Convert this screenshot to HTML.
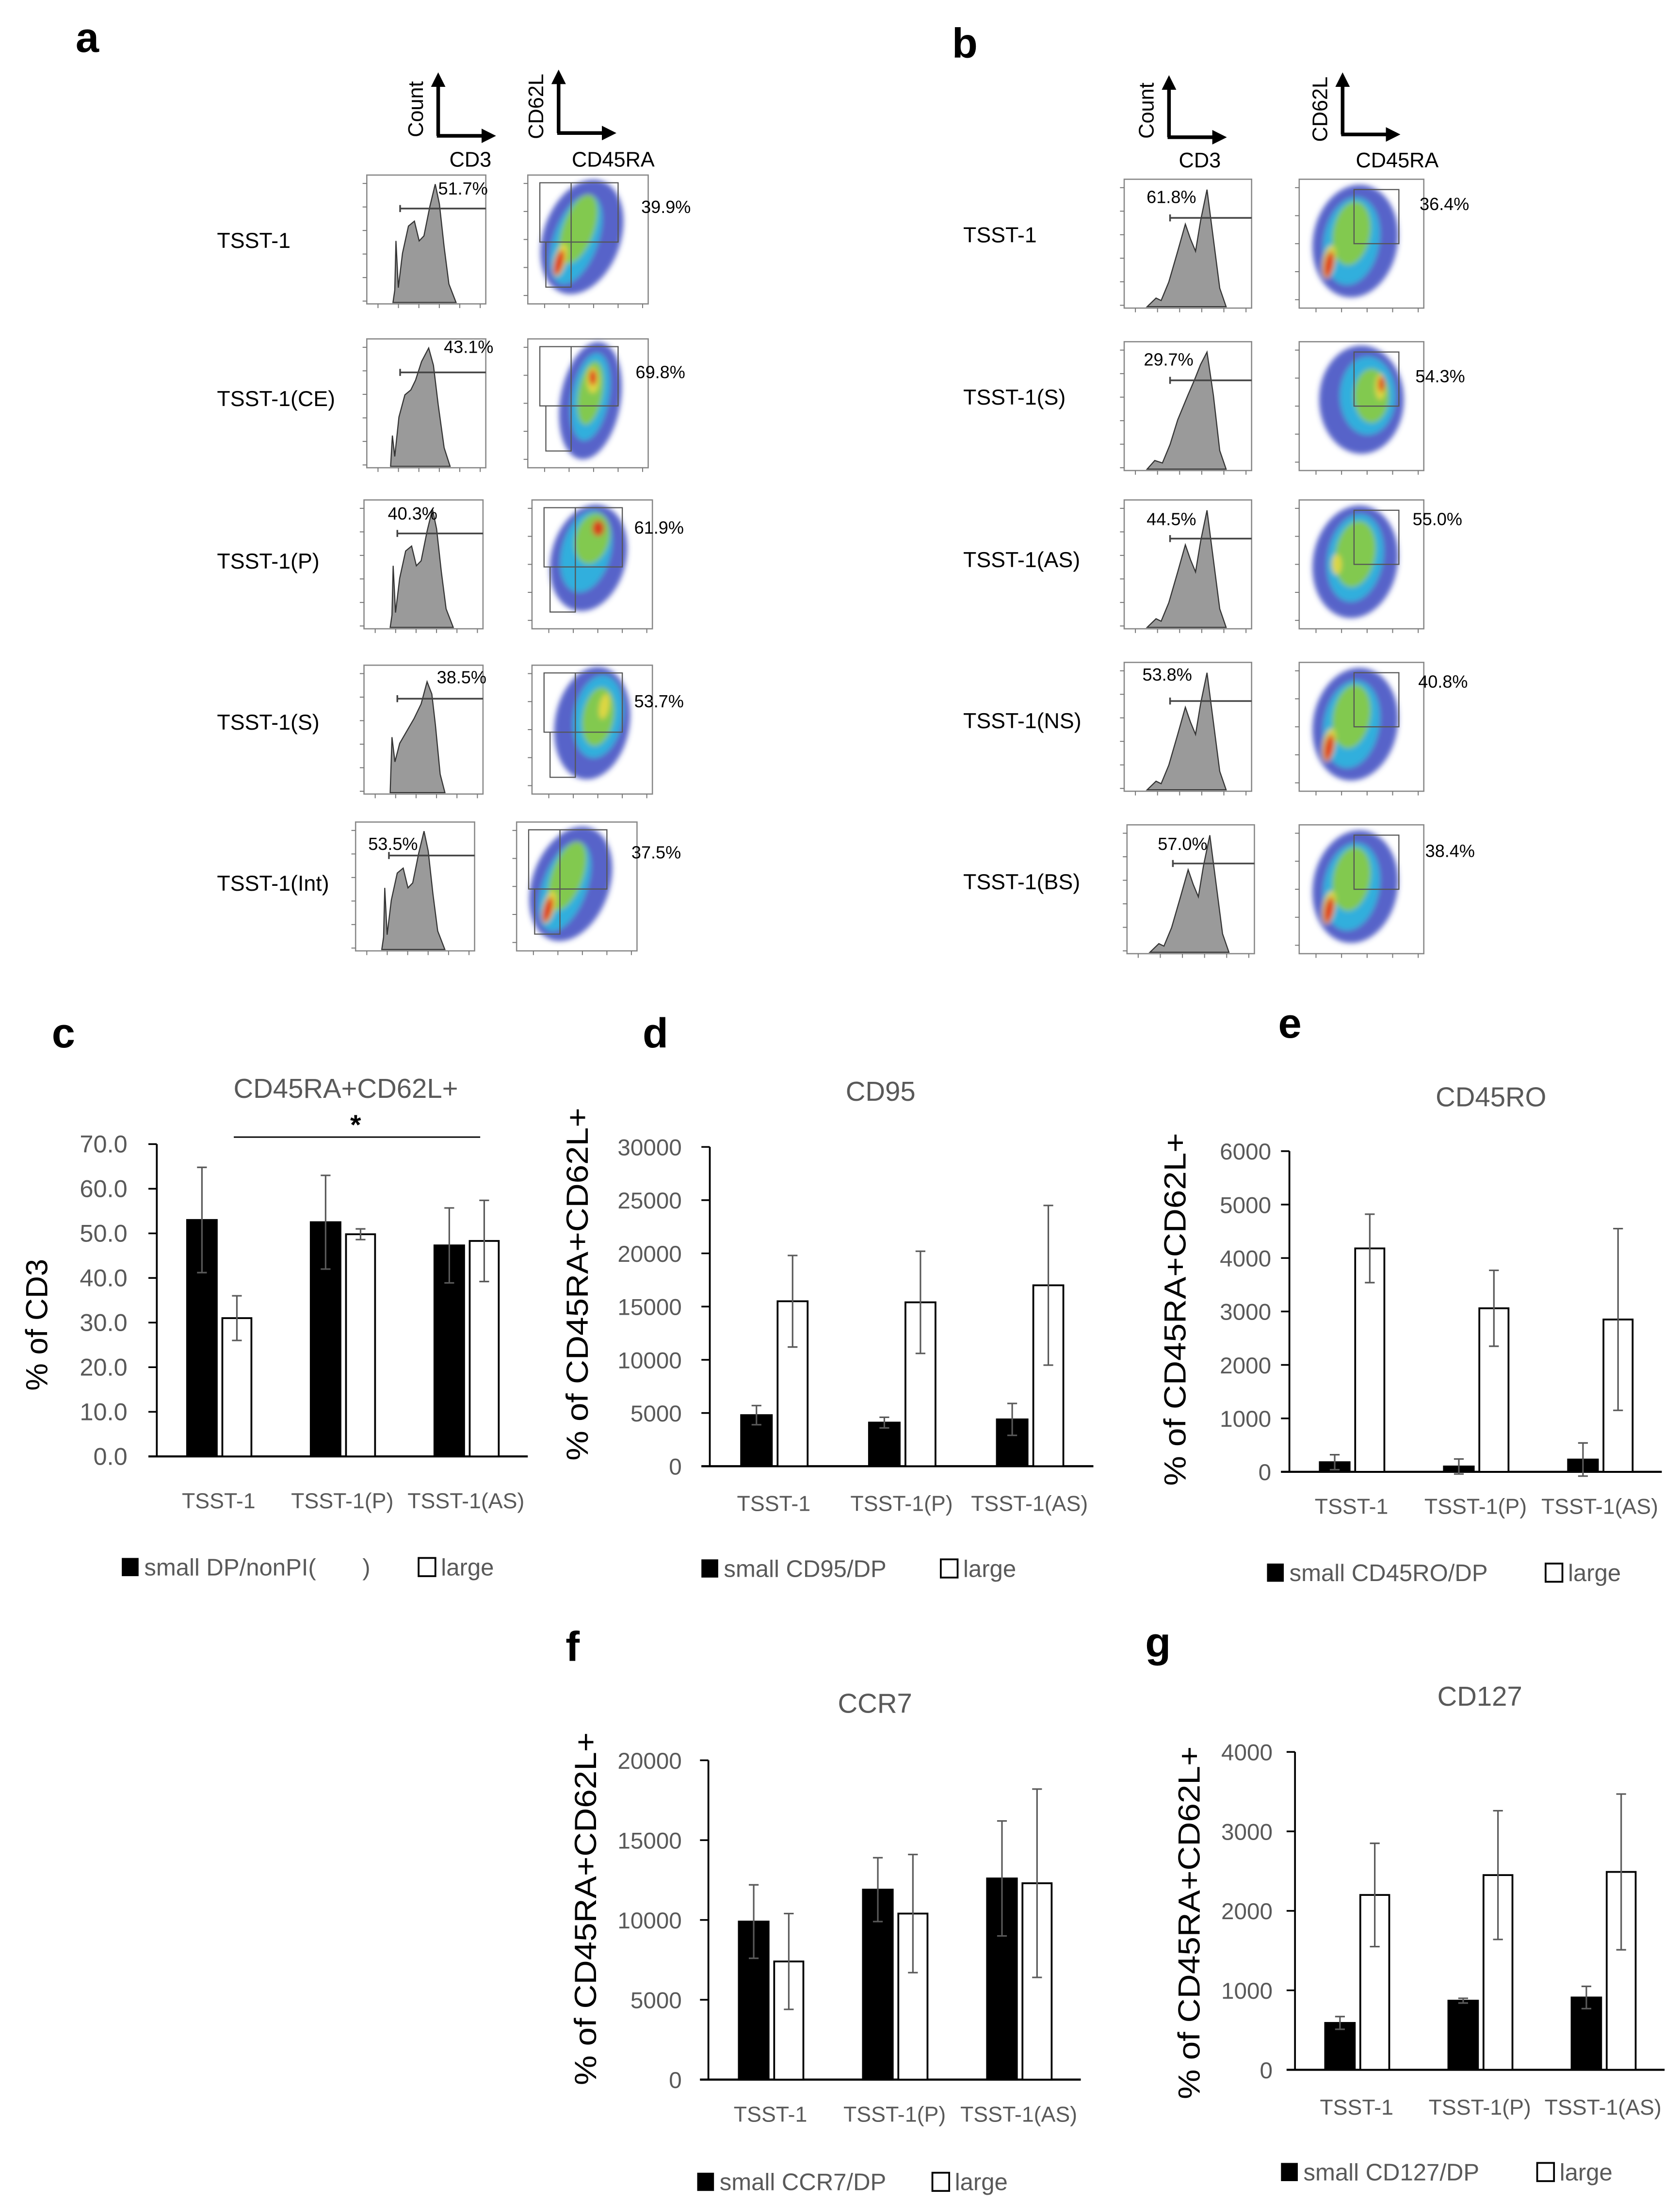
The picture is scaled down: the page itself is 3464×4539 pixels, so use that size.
<!DOCTYPE html>
<html><head><meta charset="utf-8">
<style>
html,body{margin:0;padding:0;background:#fff;}
svg{display:block;font-family:"Liberation Sans",Arial,sans-serif;}
</style></head>
<body>
<svg id="fig" xmlns="http://www.w3.org/2000/svg" width="3464" height="4539" viewBox="0 0 1200 1572.4">
<defs>
<filter id="blur" x="-30%" y="-30%" width="160%" height="160%"><feGaussianBlur stdDeviation="1.8"/></filter>
<marker id="arrowHead" viewBox="0 0 10 10" refX="2" refY="5" markerWidth="4" markerHeight="4" orient="auto"><path d="M0,0 L10,5 L0,10 z" fill="#000"/></marker>
</defs>
<rect x="0" y="0" width="1200" height="1572.4" fill="#fff"/>

<g font-weight="bold" font-size="30" fill="#000">
<text x="54" y="37">a</text>
<text x="680" y="41">b</text>
<text x="37" y="748">c</text>
<text x="459" y="748">d</text>
<text x="913" y="741">e</text>
<text x="404" y="1186">f</text>
<text x="818" y="1183">g</text>
</g>

<g id="headerA">
<line x1="313" y1="97" x2="313" y2="60" stroke="#000" stroke-width="2.6" marker-end="url(#arrowHead)"/>
<line x1="312" y1="97" x2="346" y2="97" stroke="#000" stroke-width="2.6" marker-end="url(#arrowHead)"/>
<text x="0" y="0" font-size="15" transform="translate(302,78) rotate(-90)" text-anchor="middle">Count</text>
<text x="336" y="119" font-size="15" text-anchor="middle">CD3</text>
<line x1="399" y1="95" x2="399" y2="58" stroke="#000" stroke-width="2.6" marker-end="url(#arrowHead)"/>
<line x1="398" y1="95" x2="432" y2="95" stroke="#000" stroke-width="2.6" marker-end="url(#arrowHead)"/>
<text x="0" y="0" font-size="15" transform="translate(388,76) rotate(-90)" text-anchor="middle">CD62L</text>
<text x="438" y="119" font-size="15" text-anchor="middle">CD45RA</text>
</g>
<g id="headerB">
<line x1="835" y1="98" x2="835" y2="62" stroke="#000" stroke-width="2.6" marker-end="url(#arrowHead)"/>
<line x1="834" y1="98" x2="868" y2="98" stroke="#000" stroke-width="2.6" marker-end="url(#arrowHead)"/>
<text x="0" y="0" font-size="15" transform="translate(824,79) rotate(-90)" text-anchor="middle">Count</text>
<text x="857" y="119.5" font-size="15" text-anchor="middle">CD3</text>
<line x1="959" y1="96" x2="959" y2="60" stroke="#000" stroke-width="2.6" marker-end="url(#arrowHead)"/>
<line x1="958" y1="96" x2="992" y2="96" stroke="#000" stroke-width="2.6" marker-end="url(#arrowHead)"/>
<text x="0" y="0" font-size="15" transform="translate(948,78) rotate(-90)" text-anchor="middle">CD62L</text>
<text x="998" y="119.5" font-size="15" text-anchor="middle">CD45RA</text>
</g>

<g id="flow"></g>
<g id="charts"></g>
</svg>

<script>
const groupCategories = ["TSST-1", "TSST-1(P)", "TSST-1(AS)"];

const cTicks = ["0.0","10.0","20.0","30.0","40.0","50.0","60.0","70.0"];
const cSmall = [53.0, 52.5, 47.3];
const cSmallErr = [11.8, 10.5, 8.4];
const cLarge = [31.0, 49.8, 48.3];
const cLargeErr = [5.0, 1.2, 9.1];

const dTicks = ["0","5000","10000","15000","20000","25000","30000"];
const dSmall = [4800, 4100, 4400];
const dSmallErr = [900, 500, 1500];
const dLarge = [15500, 15400, 17000];
const dLargeErr = [4300, 4800, 7500];

const eTicks = ["0","1000","2000","3000","4000","5000","6000"];
const eSmall = [180, 100, 230];
const eSmallErr = [140, 140, 310];
const eLarge = [4180, 3060, 2850];
const eLargeErr = [640, 710, 1700];

const fTicks = ["0","5000","10000","15000","20000"];
const fSmall = [9900, 11900, 12600];
const fSmallErr = [2300, 2000, 3600];
const fLarge = [7400, 10400, 12300];
const fLargeErr = [3000, 3700, 5900];

const gTicks = ["0","1000","2000","3000","4000"];
const gSmall = [590, 870, 910];
const gSmallErr = [80, 30, 140];
const gLarge = [2200, 2450, 2490];
const gLargeErr = [650, 810, 980];

const NS = "http://www.w3.org/2000/svg";
function mk(tag, attrs, parent) {
  const e = document.createElementNS(NS, tag);
  for (const k in attrs) e.setAttribute(k, attrs[k]);
  if (parent) parent.appendChild(e);
  return e;
}
const GREY = "#595959";

function drawChart(id, L, ticks, small, smallErr, large, largeErr, title, ylabel, legendSmall) {
  const root = document.getElementById("charts");
  const g = mk("g", {}, root);
  
  
  const tickVals = ticks.map(parseFloat);
  const maxV = tickVals[tickVals.length - 1];
  const yScale = v => L.y0 - (v / maxV) * (L.y0 - L.yTop);
  const pitch = (L.x1 - L.x0) / groupCategories.length;
  const xScale = (i, f) => L.x0 + i * pitch + f * pitch;

  const t = mk("text", {x: L.titleX, y: L.titleY, "font-size": 19.5, fill: GREY, "text-anchor": "middle"}, g);
  t.textContent = title;
  
  

  tickVals.forEach((v, i) => {
    const y = yScale(v);
    const tl = mk("text", {x: L.tickX, y: y + 6, "font-size": L.tickFont, fill: GREY, "text-anchor": "end"}, g);
    tl.textContent = ticks[i];
    
    
    const tk = mk("line", {x1: L.x0 - 6, x2: L.x0, y1: y, y2: y, stroke: "#000", "stroke-width": 1.2}, g);
    
    
  });
  const ya = mk("line", {x1: L.x0, x2: L.x0, y1: L.yTop, y2: L.y0, stroke: "#000", "stroke-width": 1.3}, g);
  
  
  const xa = mk("line", {x1: L.x0 - 6, x2: L.x1, y1: L.y0, y2: L.y0, stroke: "#000", "stroke-width": 1.5}, g);
  
  

  const yl = mk("text", {x: 0, y: 0, "font-size": 22, fill: "#000", "text-anchor": "middle",
    transform: "translate(" + L.ylX + "," + L.ylY + ") rotate(-90)", "dominant-baseline": "middle"}, g);
  if (L.ylLen) { yl.setAttribute("textLength", L.ylLen); yl.setAttribute("lengthAdjust", "spacingAndGlyphs"); }
  yl.textContent = ylabel;
  
  

  function bar(i, val, err, f0, f1, fill, nm) {
    const xa0 = xScale(i, f0), xa1 = xScale(i, f1);
    const y = yScale(val);
    const r = mk("rect", {x: xa0, y: y, width: xa1 - xa0, height: L.y0 - y, fill: fill, stroke: "#000", "stroke-width": 1.3}, g);
    
    
    const cx = (xa0 + xa1) / 2;
    const eb = mk("path", {d: "M" + cx + "," + yScale(val + err) + "V" + yScale(val - err) +
      "M" + (cx - 3.5) + "," + yScale(val + err) + "H" + (cx + 3.5) +
      "M" + (cx - 3.5) + "," + yScale(val - err) + "H" + (cx + 3.5),
      stroke: GREY, "stroke-width": 1.1, fill: "none"}, g);
    
    
  }
  groupCategories.forEach((c, i) => {
    bar(i, small[i], smallErr[i], 0.245, 0.485, "#000", "bar-small-" + (i + 1));
    bar(i, large[i], largeErr[i], 0.53, 0.765, "#fff", "bar-large-" + (i + 1));
    const cl = mk("text", {x: xScale(i, 0.5), y: L.catY, "font-size": 15.5, fill: GREY, "text-anchor": "middle"}, g);
    cl.textContent = c;
    
    
  });

  const lg = mk("g", {}, g);
  
  
  const s1 = mk("rect", {x: L.lg1, y: L.lgY - 6.5, width: 12, height: 13, fill: "#000"}, lg);
  
  
  const t1 = mk("text", {x: L.lg1 + 16, y: L.lgY + 6, "font-size": 17, fill: GREY}, lg);
  t1.textContent = legendSmall;
  
  
  const s2 = mk("rect", {x: L.lg2, y: L.lgY - 6.5, width: 12, height: 13, fill: "#fff", stroke: "#000", "stroke-width": 1.3}, lg);
  
  
  const t2 = mk("text", {x: L.lg2 + 16, y: L.lgY + 6, "font-size": 17, fill: GREY}, lg);
  t2.textContent = "large";
  
  
  return g;
}

const gc = drawChart("c", {x0:112, x1:377, yTop:817, y0:1040, tickX:91, tickFont:17.5, titleX:247, titleY:784,
  ylX:28, ylY:946, ylLen:0, catY:1077, lgY:1119, lg1:87, lg2:299},
  cTicks, cSmall, cSmallErr, cLarge, cLargeErr, "CD45RA+CD62L+", "% of CD3", "small DP/nonPI(\u00a0\u00a0\u00a0\u00a0\u00a0\u00a0\u00a0)");
const sig = mk("line", {x1:167, x2:343, y1:812, y2:812, stroke:"#000", "stroke-width":1}, gc);


const star = mk("text", {x:254, y:810, "font-size":20, "font-weight":"bold", "text-anchor":"middle"}, gc);
star.textContent = "*";



drawChart("d", {x0:507, x1:781, yTop:819, y0:1047, tickX:487, tickFont:16.5, titleX:629, titleY:786,
  ylX:414, ylY:917, ylLen:252, catY:1079, lgY:1120, lg1:501, lg2:672},
  dTicks, dSmall, dSmallErr, dLarge, dLargeErr, "CD95", "% of CD45RA+CD62L+", "small CD95/DP");
drawChart("e", {x0:921, x1:1187, yTop:822, y0:1051, tickX:908, tickFont:16.5, titleX:1065, titleY:790,
  ylX:841, ylY:935, ylLen:252, catY:1081, lgY:1123, lg1:905, lg2:1104},
  eTicks, eSmall, eSmallErr, eLarge, eLargeErr, "CD45RO", "% of CD45RA+CD62L+", "small CD45RO/DP");
drawChart("f", {x0:506, x1:772, yTop:1257, y0:1485, tickX:487, tickFont:16.5, titleX:625, titleY:1223,
  ylX:420, ylY:1363, ylLen:252, catY:1515, lgY:1558, lg1:498, lg2:666},
  fTicks, fSmall, fSmallErr, fLarge, fLargeErr, "CCR7", "% of CD45RA+CD62L+", "small CCR7/DP");
drawChart("g", {x0:925, x1:1189, yTop:1251, y0:1478, tickX:909, tickFont:16.5, titleX:1057, titleY:1218,
  ylX:851, ylY:1373, ylLen:252, catY:1510, lgY:1551, lg1:915, lg2:1098},
  gTicks, gSmall, gSmallErr, gLarge, gLargeErr, "CD127", "% of CD45RA+CD62L+", "small CD127/DP");

const flow = document.getElementById("flow");
const histA = [[.22,1],[.235,.9],[.245,.5],[.265,.88],[.3,.6],[.35,.38],[.4,.34],[.44,.5],[.48,.46],[.53,.22],[.575,.04],[.61,.2],[.65,.55],[.69,.85],[.75,1]];
const histCE = [[.2,1],[.215,.75],[.235,.92],[.27,.6],[.32,.42],[.37,.38],[.41,.3],[.46,.15],[.52,.04],[.56,.18],[.6,.5],[.65,.85],[.7,1]];
const histS = [[.22,1],[.235,.55],[.26,.75],[.3,.6],[.36,.5],[.42,.4],[.48,.28],[.53,.1],[.57,.2],[.6,.45],[.64,.85],[.68,1]];
const histB = [[.18,1],[.25,.93],[.29,.95],[.35,.8],[.42,.55],[.48,.33],[.52,.45],[.56,.55],[.6,.3],[.65,.05],[.7,.45],[.75,.85],[.8,1]];
const histBS = [[.18,1],[.24,.93],[.3,.95],[.36,.8],[.42,.6],[.5,.4],[.55,.28],[.6,.15],[.65,.05],[.7,.4],[.75,.85],[.8,1]];

const dotDiag = [["#3a48c0",.45,.48,.32,.46,20,.85],["#30b8e0",.4,.5,.18,.36,20,.9],["#8ccc40",.42,.42,.13,.28,20,.9],["#e8d840",.27,.66,.05,.13,15,.9],["#e03018",.26,.68,.035,.1,15,.95]];
const dotCenter = [["#3a48c0",.52,.48,.25,.46,10,.85],["#30b8e0",.52,.45,.15,.34,10,.9],["#8ccc40",.52,.42,.1,.25,10,.9],["#e8d840",.54,.32,.05,.1,0,.9],["#e03018",.54,.3,.03,.06,0,.95]];
const dotP = [["#3a48c0",.47,.45,.31,.42,15,.85],["#30b8e0",.45,.4,.2,.32,15,.9],["#8ccc40",.5,.3,.14,.2,15,.9],["#e03018",.55,.22,.05,.06,0,.9]];
const dotSa = [["#3a48c0",.5,.45,.31,.44,10,.85],["#30b8e0",.55,.4,.2,.32,10,.9],["#8ccc40",.55,.4,.13,.23,10,.9],["#e8d840",.6,.32,.04,.1,10,.9]];
const dotB = [["#3a48c0",.45,.48,.34,.44,10,.85],["#30b8e0",.42,.48,.22,.34,10,.9],["#8ccc40",.42,.42,.15,.25,10,.9],["#e8d840",.24,.64,.05,.13,10,.9],["#e03018",.24,.66,.035,.1,10,.95]];
const dotBS = [["#3a48c0",.5,.45,.34,.42,0,.85],["#30b8e0",.55,.42,.22,.3,0,.9],["#8ccc40",.58,.42,.14,.21,0,.9],["#e8d840",.65,.35,.04,.1,0,.9],["#e03018",.66,.33,.025,.06,0,.9]];
const dotBAS = [["#3a48c0",.45,.48,.34,.44,10,.85],["#30b8e0",.45,.45,.22,.34,10,.9],["#8ccc40",.45,.42,.16,.26,10,.9],["#e8d840",.3,.5,.04,.08,0,.9]];

function histogram(x, y, w, h, pts, gateX0, gateY, pct, pctX, pctY, nm) {
  const g = mk("g", {}, flow);
  
  
  mk("rect", {x: x, y: y, width: w, height: h, fill: "#fff", stroke: "#888", "stroke-width": 0.9}, g);
  let d = "";
  pts.forEach((p, i) => { d += (i ? "L" : "M") + (x + p[0] * w) + "," + (y + 3 + p[1] * (h - 4)); });
  mk("path", {d: d + "Z", fill: "#9a9a9a", stroke: "#333", "stroke-width": 0.8}, g);
  for (let i = 0; i < 6; i++) {
    mk("line", {x1: x + 8 + i * (w - 12) / 5, x2: x + 8 + i * (w - 12) / 5, y1: y + h, y2: y + h + 3, stroke: "#777", "stroke-width": 0.7}, g);
    mk("line", {x1: x - 3, x2: x, y1: y + 6 + i * (h - 8) / 5, y2: y + 6 + i * (h - 8) / 5, stroke: "#777", "stroke-width": 0.7}, g);
  }
  mk("path", {d: "M" + (x + gateX0 * w) + "," + (y + gateY * h) + "H" + (x + w) +
    "M" + (x + gateX0 * w) + "," + (y + gateY * h - 2.5) + "V" + (y + gateY * h + 2.5), stroke: "#444", "stroke-width": 1.2}, g);
  const t = mk("text", {x: pctX, y: pctY, "font-size": 12.5, fill: "#000"}, g);
  t.textContent = pct;
  
  
}

function dotplot(x, y, w, h, blobs, gateType, pct, pctX, pctY, nm) {
  const g = mk("g", {}, flow);
  
  
  mk("rect", {x: x, y: y, width: w, height: h, fill: "#fff", stroke: "#888", "stroke-width": 0.9}, g);
  const bg = mk("g", {filter: "url(#blur)"}, g);
  blobs.forEach(b => {
    mk("ellipse", {cx: x + b[1] * w, cy: y + b[2] * h, rx: b[3] * w, ry: b[4] * h, fill: b[0], opacity: b[6],
      transform: "rotate(" + b[5] + " " + (x + b[1] * w) + " " + (y + b[2] * h) + ")"}, bg);
  });
  for (let i = 0; i < 5; i++) {
    mk("line", {x1: x + 12 + i * (w - 16) / 4, x2: x + 12 + i * (w - 16) / 4, y1: y + h, y2: y + h + 3, stroke: "#777", "stroke-width": 0.7}, g);
    mk("line", {x1: x - 3, x2: x, y1: y + 6 + i * (h - 12) / 4, y2: y + 6 + i * (h - 12) / 4, stroke: "#777", "stroke-width": 0.7}, g);
  }
  if (gateType === "a") {
    mk("path", {d: "M" + (x + .1 * w) + "," + (y + .06 * h) + "H" + (x + .75 * w) + "V" + (y + .52 * h) + "H" + (x + .1 * w) + "Z" +
      "M" + (x + .36 * w) + "," + (y + .06 * h) + "V" + (y + .87 * h) + "H" + (x + .15 * w) + "V" + (y + .52 * h),
      fill: "none", stroke: "#555", "stroke-width": 0.8}, g);
  } else {
    mk("rect", {x: x + .44 * w, y: y + .08 * h, width: .36 * w, height: .42 * h, fill: "none", stroke: "#555", "stroke-width": 0.8}, g);
  }
  const t = mk("text", {x: pctX, y: pctY, "font-size": 12.5, fill: "#000"}, g);
  t.textContent = pct;
  
  
}

function rowLabel(txt, x, y) {
  const t = mk("text", {x: x, y: y, "font-size": 15.5, fill: "#000"}, flow);
  t.textContent = txt;
  
  
}

const aRows = [
  {lbl:"TSST-1", ly:177, top:125, hist:histA, hp:"51.7%", hx:313, hy:139, dots:dotDiag, dp:"39.9%", dx:458, dy:152, hx0:262, dx0:377},
  {lbl:"TSST-1(CE)", ly:290, top:242, hist:histCE, hp:"43.1%", hx:317, hy:252, dots:dotCenter, dp:"69.8%", dx:454, dy:270, hx0:262, dx0:377},
  {lbl:"TSST-1(P)", ly:406, top:357, hist:histA, hp:"40.3%", hx:277, hy:371, dots:dotP, dp:"61.9%", dx:453, dy:381, hx0:260, dx0:380},
  {lbl:"TSST-1(S)", ly:521, top:475, hist:histS, hp:"38.5%", hx:312, hy:488, dots:dotSa, dp:"53.7%", dx:453, dy:505, hx0:260, dx0:380},
  {lbl:"TSST-1(Int)", ly:636, top:587, hist:histA, hp:"53.5%", hx:263, hy:607, dots:dotDiag, dp:"37.5%", dx:451, dy:613, hx0:254, dx0:369}
];
aRows.forEach((r, i) => {
  rowLabel(r.lbl, 155, r.ly);
  histogram(r.hx0, r.top, 85, 92, r.hist, 0.28, 0.26, r.hp, r.hx, r.hy, "histogram-a-" + (i + 1));
  dotplot(r.dx0, r.top, 86, 92, r.dots, "a", r.dp, r.dx, r.dy, "dotplot-a-" + (i + 1));
});

const bRows = [
  {lbl:"TSST-1", ly:173, top:128, hist:histB, hp:"61.8%", hx:819, hy:145, dots:dotB, dp:"36.4%", dx:1014, dy:150},
  {lbl:"TSST-1(S)", ly:289, top:244, hist:histBS, hp:"29.7%", hx:817, hy:261, dots:dotBS, dp:"54.3%", dx:1011, dy:273},
  {lbl:"TSST-1(AS)", ly:405, top:357, hist:histB, hp:"44.5%", hx:819, hy:375, dots:dotBAS, dp:"55.0%", dx:1009, dy:375},
  {lbl:"TSST-1(NS)", ly:520, top:473, hist:histB, hp:"53.8%", hx:816, hy:486, dots:dotB, dp:"40.8%", dx:1013, dy:491},
  {lbl:"TSST-1(BS)", ly:635, top:589, hist:histB, hp:"57.0%", hx:827, hy:607, dots:dotB, dp:"38.4%", dx:1018, dy:612}
];
bRows.forEach((r, i) => {
  rowLabel(r.lbl, 688, r.ly);
  histogram(803 + (i === 4 ? 2 : 0), r.top, 91, 92, r.hist, 0.36, 0.3, r.hp, r.hx, r.hy, "histogram-b-" + (i + 1));
  dotplot(928, r.top, 89, 92, r.dots, "b", r.dp, r.dx, r.dy, "dotplot-b-" + (i + 1));
});
</script>
</body></html>
